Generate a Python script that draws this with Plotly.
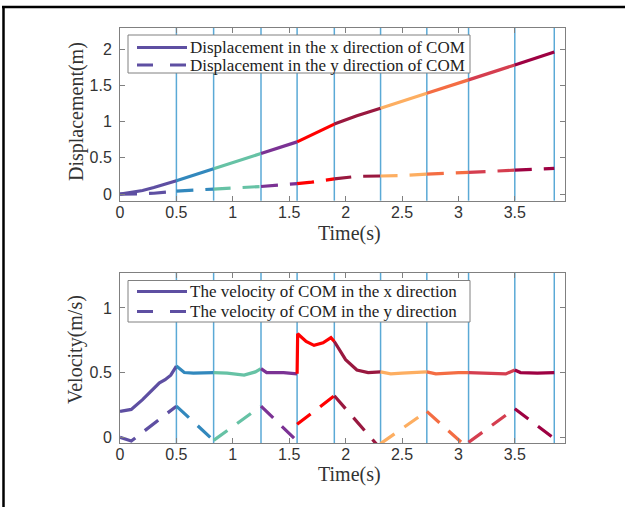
import plotly.graph_objects as go
from plotly.subplots import make_subplots

# ---------------- data ----------------
phase_bounds = [0, 0.5, 0.83, 1.25, 1.57, 1.9, 2.31, 2.72, 3.09, 3.5, 3.85]
phase_colors = ["#5e4fa2", "#3288bd", "#66c2a5", "#7b3294", "#ff0000",
                "#99183f", "#fdae61", "#f46d43", "#d53e4f", "#9e0142"]

t_disp = [0, 0.1, 0.2, 0.3, 0.4, 0.5, 0.6, 0.83, 1.0, 1.25, 1.4, 1.57, 1.7, 1.9,
          2.0, 2.1, 2.31, 2.5, 2.72, 2.9, 3.09, 3.3, 3.5, 3.7, 3.85]
disp_x = [0, 0.02, 0.05, 0.09, 0.135, 0.185, 0.235, 0.35, 0.435, 0.56, 0.635, 0.72,
          0.815, 0.965, 1.025, 1.08, 1.185, 1.28, 1.39, 1.48, 1.575, 1.68, 1.78, 1.885, 1.96]
disp_y = [0, 0.0, 0.005, 0.012, 0.025, 0.04, 0.05, 0.07, 0.08, 0.105, 0.125, 0.145,
          0.165, 0.21, 0.23, 0.245, 0.25, 0.255, 0.275, 0.29, 0.3, 0.31, 0.33, 0.345, 0.355]

t_vel_x = [0, 0.05, 0.1, 0.2, 0.3, 0.35, 0.4, 0.45, 0.5, 0.57, 0.65, 0.83, 0.95, 1.1,
           1.2, 1.25, 1.3, 1.45, 1.57, 1.575, 1.65, 1.72, 1.8, 1.87, 1.9, 2.0, 2.1,
           2.2, 2.31, 2.4, 2.5, 2.72, 2.8, 3.0, 3.09, 3.3, 3.42, 3.5, 3.55, 3.7, 3.85]
vel_x = [0.2, 0.205, 0.215, 0.29, 0.38, 0.42, 0.445, 0.48, 0.55, 0.5, 0.495, 0.5,
         0.495, 0.48, 0.505, 0.53, 0.5, 0.5, 0.49, 0.8, 0.74, 0.71, 0.73, 0.77, 0.74,
         0.6, 0.52, 0.5, 0.505, 0.49, 0.495, 0.505, 0.49, 0.5, 0.5, 0.495, 0.49, 0.52,
         0.5, 0.495, 0.5]

t_vel_y = [0, 0.1, 0.5, 0.83, 1.25, 1.57, 1.57, 1.9, 2.31, 2.31, 2.72, 3.09, 3.09, 3.5, 3.85]
vel_y = [0.0, -0.03, 0.24, -0.025, 0.24, -0.03, 0.1, 0.32, -0.09, -0.05, 0.2, -0.09,
         -0.04, 0.22, -0.01]

x_ticks = [0, 0.5, 1, 1.5, 2, 2.5, 3, 3.5]
disp_ticks = [0, 0.5, 1, 1.5, 2]
vel_ticks = [0, 0.5, 1]

legend_top = ["Displacement in the x direction of COM", "Displacement in the y direction of COM"]
legend_bot = ["The velocity of COM in the x direction", "The velocity of COM in the y direction"]


def split(t, v):
    """Split a series into per-phase segments; duplicated times at a boundary
    mark a jump (first value ends the earlier phase, second starts the next)."""
    n = len(t)
    segs = []
    for k in range(len(phase_bounds) - 1):
        lo, hi = phase_bounds[k], phase_bounds[k + 1]
        idx = [i for i in range(n) if lo - 1e-9 <= t[i] <= hi + 1e-9]
        at_lo = [i for i in idx if abs(t[i] - lo) < 1e-9]
        at_hi = [i for i in idx if abs(t[i] - hi) < 1e-9]
        if len(at_lo) > 1:
            idx.remove(at_lo[0])
        if len(at_hi) > 1:
            idx.remove(at_hi[-1])
        segs.append(([t[i] for i in idx], [v[i] for i in idx]))
    return segs


fig = make_subplots(rows=2, cols=1)

DASH = "17px,12px"
LW = 3.2

for t, v, dash in [(t_disp, disp_x, "solid"), (t_disp, disp_y, DASH)]:
    for k, (sx, sy) in enumerate(split(t, v)):
        fig.add_trace(go.Scatter(x=sx, y=sy, mode="lines", showlegend=False,
                                 line=dict(color=phase_colors[k], width=LW, dash=dash)),
                      row=1, col=1)
for t, v, dash in [(t_vel_x, vel_x, "solid"), (t_vel_y, vel_y, DASH)]:
    for k, (sx, sy) in enumerate(split(t, v)):
        fig.add_trace(go.Scatter(x=sx, y=sy, mode="lines", showlegend=False,
                                 line=dict(color=phase_colors[k], width=LW, dash=dash)),
                      row=2, col=1)

# phase boundary lines
for b in phase_bounds[1:]:
    for xr, yr in [("x", "y domain"), ("x2", "y2 domain")]:
        fig.add_shape(type="line", xref=xr, yref=yr, x0=b, x1=b, y0=0, y1=1,
                      line=dict(color="#5aa9d6", width=1.5), layer="below")

# pixel helpers
L, R, T, B = 120, 60, 28, 64
W, H = 625, 507
pw, ph = W - L - R, H - T - B
def px2paper_x(px): return (px - L) / pw
def px2paper_y(py): return (H - B - py) / ph

# outer frame (top and left edges)
fig.add_shape(type="line", xref="paper", yref="paper",
              x0=px2paper_x(2), x1=px2paper_x(W), y0=px2paper_y(7), y1=px2paper_y(7),
              line=dict(color="black", width=2.5))
fig.add_shape(type="line", xref="paper", yref="paper",
              x0=px2paper_x(3.5), x1=px2paper_x(3.5), y0=px2paper_y(7), y1=px2paper_y(H),
              line=dict(color="black", width=2.5))

# legends (box, sample lines, labels)
leg_font = dict(family="Liberation Serif", size=17, color="#222222")
def add_legend(labels, box_top, box_bot, rows):
    fig.add_shape(type="rect", xref="paper", yref="paper",
                  x0=px2paper_x(128), x1=px2paper_x(470),
                  y0=px2paper_y(box_bot), y1=px2paper_y(box_top),
                  fillcolor="white", line=dict(color="#808080", width=1), layer="above")
    for label, ry, dash in zip(labels, rows, ["solid", "16px,17px"]):
        fig.add_shape(type="line", xref="paper", yref="paper",
                      x0=px2paper_x(137), x1=px2paper_x(187),
                      y0=px2paper_y(ry), y1=px2paper_y(ry),
                      line=dict(color=phase_colors[0], width=LW, dash=dash), layer="above")
        fig.add_annotation(text=label, xref="paper", yref="paper",
                           x=px2paper_x(188), y=px2paper_y(ry), xanchor="left",
                           yanchor="middle", showarrow=False, font=leg_font)

add_legend(legend_top, 35, 73, [47.5, 65])
add_legend(legend_bot, 280.5, 322, [291.5, 311.5])

# axis titles
title_font = dict(family="Liberation Serif", size=20, color="#333333")
for text, xpx, ypx, ang in [("Time(s)", 349, 233, 0), ("Time(s)", 349, 474, 0),
                            ("Displacement(m)", 76, 112, -90),
                            ("Velocity(m/s)", 75, 350, -90)]:
    fig.add_annotation(text=text, xref="paper", yref="paper",
                       x=px2paper_x(xpx), y=px2paper_y(ypx), xanchor="center",
                       yanchor="middle", showarrow=False, textangle=ang, font=title_font)

axis_common = dict(showline=True, linecolor="#808080", linewidth=1, mirror="ticks",
                   ticks="inside", ticklen=5, tickcolor="#808080", showgrid=False,
                   zeroline=False,
                   tickfont=dict(family="Liberation Sans", size=16, color="#333333"))

fig.update_xaxes(range=[0, 3.945], tickvals=x_ticks, ticklabelstandoff=-3, **axis_common)
fig.update_yaxes(range=[-0.09, 2.29], tickvals=disp_ticks, ticklabelstandoff=4,
                 row=1, col=1, **axis_common)
fig.update_yaxes(range=[-0.045, 1.27], tickvals=vel_ticks, ticklabelstandoff=4,
                 row=2, col=1, **axis_common)

fig.update_layout(
    width=W, height=H, showlegend=False,
    margin=dict(l=L, r=R, t=T, b=B, autoexpand=False),
    paper_bgcolor="white", plot_bgcolor="white",
    xaxis=dict(domain=[0, 1]), xaxis2=dict(domain=[0, 1]),
    yaxis=dict(domain=[0.584, 1]), yaxis2=dict(domain=[0, 0.4096]),
)

fig.write_html("out.html")
